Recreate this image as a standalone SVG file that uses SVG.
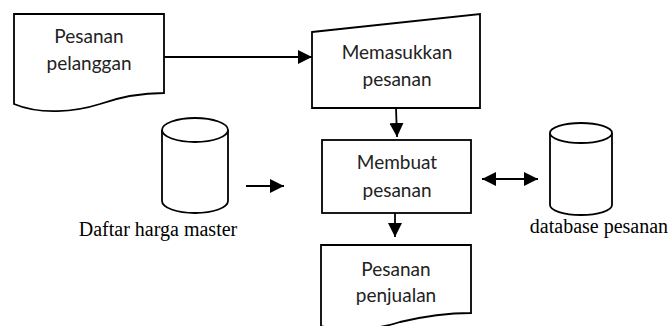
<svg xmlns="http://www.w3.org/2000/svg" width="670" height="326" viewBox="0 0 670 326">
<style>
.shape{fill:#fff;stroke:#000;stroke-width:1.8;stroke-linejoin:miter}
.lbl{font-family:Lato,"Open Sans",sans-serif;font-size:19px;fill:#222;text-anchor:middle}
.cap{font-family:"Liberation Serif","Times New Roman",serif;font-size:20px;fill:#000;text-anchor:middle}
.line{fill:none;stroke:#000;stroke-width:1.8}
</style>
<defs>
<marker id="ah" viewBox="0 0 14 14" refX="14" refY="7" markerWidth="14" markerHeight="14" markerUnits="userSpaceOnUse" orient="auto-start-reverse">
<path d="M0,0 L14,7 L0,14 Z" fill="#000"/>
</marker>
</defs>
<rect width="670" height="326" fill="#fff"/>
<g id="pesanan-pelanggan">
<path class="shape" d="M14,14 L164,14 L164,93 C140,93 120,97 100,104 C75,112 40,115 14,104 Z"/>
<text class="lbl" x="89" y="43">Pesanan</text>
<text class="lbl" x="89" y="70">pelanggan</text>
</g>
<g id="memasukkan-pesanan">
<path class="shape" d="M312,32 L480,14 L480,108 L312,108 Z"/>
<text class="lbl" x="397" y="59">Memasukkan</text>
<text class="lbl" x="397" y="86">pesanan</text>
</g>
<g id="membuat-pesanan">
<rect class="shape" x="322" y="140" width="149" height="73"/>
<text class="lbl" x="397" y="169">Membuat</text>
<text class="lbl" x="397" y="197">pesanan</text>
</g>
<g id="pesanan-penjualan">
<path class="shape" d="M321,245 L471,245 L471,313 C445,313 425,316 400,322 C375,330 345,332 321,326 Z"/>
<text class="lbl" x="396" y="276">Pesanan</text>
<text class="lbl" x="396" y="302">penjualan</text>
</g>
<g id="daftar-harga-master">
<path class="shape" d="M162,130 L162,201 A33,12 0 0 0 228,201 L228,130"/>
<ellipse class="shape" cx="195" cy="130" rx="33" ry="12"/>
<text class="cap" x="158" y="236">Daftar harga master</text>
</g>
<g id="database-pesanan">
<path class="shape" d="M550,133 L550,205 A31,10 0 0 0 612,205 L612,133"/>
<ellipse class="shape" cx="581" cy="133" rx="31" ry="10"/>
<text class="cap" x="599" y="233">database pesanan</text>
</g>
<g id="connectors">
<line class="line" x1="164" y1="57" x2="312" y2="57" marker-end="url(#ah)"/>
<line class="line" x1="396" y1="108" x2="397" y2="137" marker-end="url(#ah)"/>
<line class="line" x1="395" y1="213" x2="395" y2="237" marker-end="url(#ah)"/>
<line class="line" x1="246" y1="186" x2="284" y2="186" marker-end="url(#ah)"/>
<line class="line" x1="482" y1="179" x2="538" y2="179" marker-start="url(#ah)" marker-end="url(#ah)"/>
</g>
</svg>
